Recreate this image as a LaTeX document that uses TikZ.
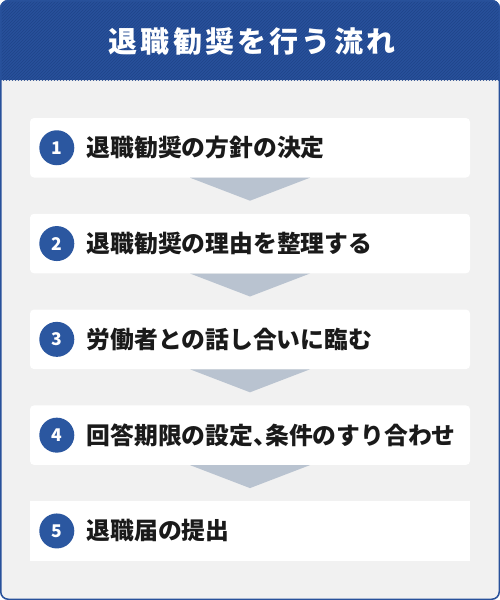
\documentclass[tikz,border=0pt]{standalone}
\usepackage{fontspec}
\newfontfamily\jpfont{Noto Sans CJK JP}
\newfontfamily\jptitle[LetterSpace=11]{Noto Sans CJK JP}
\usetikzlibrary{positioning,patterns}
\definecolor{headblue}{HTML}{28519B}
\definecolor{hatchblue}{HTML}{1F4489}
\definecolor{numblue}{HTML}{2B57A0}
\definecolor{panelgray}{HTML}{F1F1F1}
\definecolor{arrowgray}{HTML}{B9C3D0}
\definecolor{inkblack}{HTML}{1A1A1A}
\newcommand\halfpunct[1]{{\addfontfeature{RawFeature=+halt}#1}}

\begin{document}
\begin{tikzpicture}
[x=1pt,y=-1pt,
  stepbox/.style={fill=white,rounded corners=4pt,minimum width=440pt,minimum height=59.5pt,inner sep=0pt},
  lastbox/.style={stepbox,rounded corners=0pt},
  num/.style={circle,fill=numblue,text=white,minimum size=35pt,inner sep=0pt,font=\jpfont\bfseries\fontsize{17.5pt}{18pt}\selectfont},
  steptext/.style={inner sep=0pt,text=inkblack,font=\jpfont\bfseries\fontsize{23.8pt}{24pt}\selectfont},
  title/.style={inner sep=0pt,text=white,font=\jptitle\bfseries\fontsize{29pt}{30pt}\selectfont},
  pointer/.style={fill=arrowgray}]
\useasboundingbox (0,0) rectangle (500,600);
% panel and header
\begin{scope}
\clip[rounded corners=8pt] (0,0) rectangle (500,600);
\fill[panelgray] (0,0) rectangle (500,600);
\fill[headblue] (0,0) rectangle (500,80);
\fill[pattern=north east lines,pattern color=hatchblue] (0,0) rectangle (500,80);
\end{scope}
\draw[headblue,line width=1.5pt,rounded corners=7.5pt] (0.75,0.75) rectangle (499.25,599.25);
\node[title] (title) at (252,41) {退職勧奨を行う流れ};
% steps
\node[stepbox] (s1) at (250,147.75) {};
\node[stepbox,below=35.9pt of s1] (s2) {};
\node[stepbox,below=35.9pt of s2] (s3) {};
\node[stepbox,below=35.9pt of s3] (s4) {};
\node[lastbox,below=35.9pt of s4] (s5) {};
\node[num] (n1) at ([xshift=27pt]s1.west) {1};
\node[num] (n2) at ([xshift=27pt]s2.west) {2};
\node[num] (n3) at ([xshift=27pt]s3.west) {3};
\node[num] (n4) at ([xshift=27pt]s4.west) {4};
\node[num] (n5) at ([xshift=27pt]s5.west) {5};
\node[steptext,right=12pt of n1] (t1) {退職勧奨の方針の決定};
\node[steptext,right=12pt of n2] (t2) {退職勧奨の理由を整理する};
\node[steptext,right=12pt of n3] (t3) {労働者との話し合いに臨む};
\node[steptext,right=12pt of n4] (t4) {回答期限の設定\halfpunct{、}条件のすり合わせ};
\node[steptext,right=12pt of n5] (t5) {退職届の提出};
% pointers between steps
\fill[pointer] ([xshift=-60pt]s1.south) -- ([xshift=60pt]s1.south) -- ([yshift=-23pt]s1.south) -- cycle;
\fill[pointer] ([xshift=-60pt]s2.south) -- ([xshift=60pt]s2.south) -- ([yshift=-23pt]s2.south) -- cycle;
\fill[pointer] ([xshift=-60pt]s3.south) -- ([xshift=60pt]s3.south) -- ([yshift=-23pt]s3.south) -- cycle;
\fill[pointer] ([xshift=-60pt]s4.south) -- ([xshift=60pt]s4.south) -- ([yshift=-23pt]s4.south) -- cycle;
\end{tikzpicture}
\end{document}
